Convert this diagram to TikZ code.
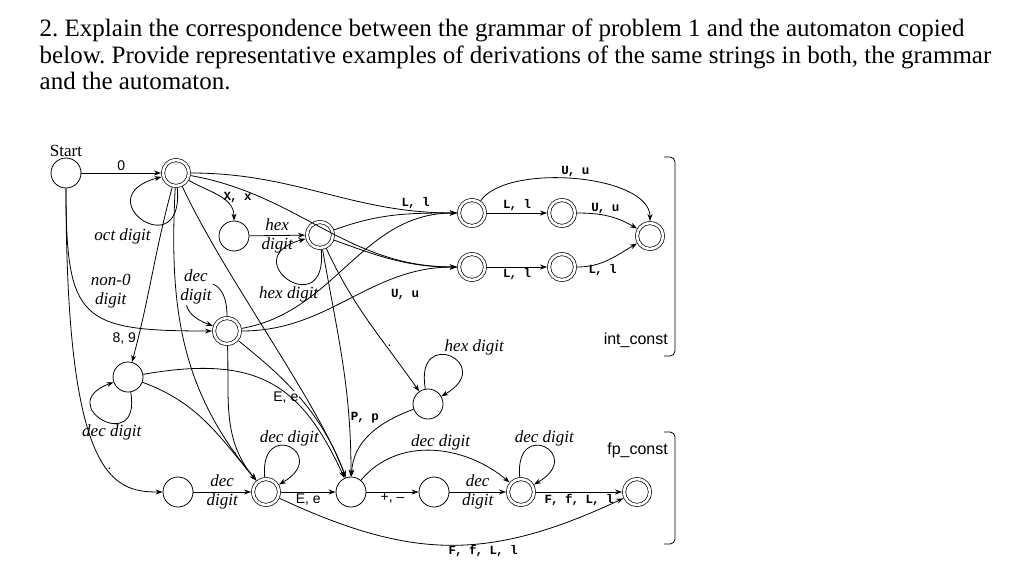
\documentclass[tikz,border=0pt]{standalone}
\usepackage{fontspec}
\setmainfont{Liberation Serif}
\newfontfamily\labsans{Liberation Sans}
\newfontfamily\labmono[LetterSpace=-8]{Liberation Mono}
\frenchspacing
\usetikzlibrary{arrows.meta,positioning}
\tikzset{
  state/.style={circle,draw,line width=0.8pt,minimum size=30pt,inner sep=0pt},
  accept/.style={circle,draw,line width=0.7pt,double,double distance=2.6pt,minimum size=26pt,inner sep=0pt,outer sep=2pt},
  arrow/.style={-{Stealth[length=7pt,width=5pt]},line width=0.8pt},
  diglab/.style={font=\fontsize{17}{19}\selectfont\itshape,align=center,inner sep=1pt},
  chrlab/.style={font=\labmono\bfseries\fontsize{12.5}{12.5}\selectfont,inner sep=1.5pt},
  sgnlab/.style={font=\labsans\fontsize{14}{14}\selectfont,inner sep=1.5pt},
  kindlab/.style={font=\labsans\fontsize{16}{16}\selectfont,inner sep=0pt},
  tasktext/.style={font=\fontsize{25}{27}\selectfont,anchor=base west,inner sep=0pt},
  bracket/.style={line width=0.8pt,rounded corners=5pt}
}

\begin{document}
\begin{tikzpicture}[x=1pt,y=1pt]
  \useasboundingbox (0,0) rectangle (1024,-567);
  % question
  \node[tasktext] (task1) at (39.5,-36.7) {2. Explain the correspondence between the grammar of problem 1 and the automaton copied};
  \node[tasktext] (task2) at (39.5,-63.3) {below. Provide representative examples of derivations of the same strings in both, the grammar};
  \node[tasktext] (task3) at (39.5,-90) {and the automaton.};

  % states
  \node[state] (start) at (66,-173) {};
  \node[above=0pt of start,font=\fontsize{17}{17}\selectfont,inner sep=1pt] (startlab) {Start};
  \node[accept] (zero) at (176,-173) {};
  \node[state] (hexx) at (234,-236) {};
  \node[accept] (hexnum) at (320,-235) {};
  \node[accept] (decnum) at (227,-331) {};
  \node[state] (octbad) at (128,-377) {};
  \node[state] (dot) at (178,-492) {};
  \node[accept] (frac) at (266,-492) {};
  \node[state] (expo) at (351,-492) {};
  \node[state] (expsign) at (434,-492) {};
  \node[accept] (expdig) at (521,-492) {};
  \node[accept] (fpsuf) at (637,-492) {};
  \node[state] (hexfrac) at (428,-404) {};
  \node[accept] (lsuf) at (472,-213) {};
  \node[accept] (llsuf) at (562,-213) {};
  \node[accept] (usuf) at (472,-267) {};
  \node[accept] (ulsuf) at (562,-267) {};
  \node[accept] (intend) at (650,-236) {};

  % integer part
  \draw[arrow] (start) -- node[above,sgnlab]{0} (zero);
  \draw[arrow] (zero) to[out=-85,in=-165,distance=80pt] node[below left,diglab,xshift=9pt,yshift=-7pt]{oct digit} (zero);
  \draw[arrow] (zero) to[out=-30,in=90] node[right,chrlab,pos=0.55]{X, x} (hexx);
  \draw[arrow] (hexx) -- node[diglab]{hex\\digit} (hexnum);
  \draw[arrow] (hexnum) to[out=-85,in=-165,distance=75pt] node[below,diglab,yshift=-6pt]{hex digit} (hexnum);
  \draw[arrow] (start) to[out=-90,in=180,out distance=132pt,in distance=132pt] node[above right,diglab,pos=0.5]{non-0\\digit} (decnum);
  \draw[arrow] (start) to[out=-90,in=180,out distance=290pt,in distance=50pt] node[above,sgnlab,pos=0.62]{.} (dot);
  \draw[arrow] (decnum) to[out=90,in=160,distance=68pt] node[diglab,fill=white,pos=0.5]{dec\\digit} (decnum);
  \draw[arrow] (zero) to[out=-105,in=75] node[left,sgnlab,pos=0.88]{8, 9} (octbad);
  \draw[arrow] (octbad) to[out=-80,in=-160,distance=66pt] node[below,diglab,pos=0.4]{dec digit} (octbad);

  % suffixes of int_const
  \draw[arrow] (zero) to[out=0,in=180] node[above,chrlab,pos=0.86]{L, l} (lsuf);
  \draw[arrow] (zero) to[out=-10,in=180] (usuf);
  \draw[arrow] (hexnum) to[out=20,in=180] (lsuf);
  \draw[arrow] (hexnum) to[out=-20,in=180] (usuf);
  \draw[arrow] (decnum) to[out=10,in=180] (lsuf);
  \draw[arrow] (decnum) to[out=0,in=180] node[below=12pt,chrlab,pos=0.78]{U, u} (usuf);
  \draw[arrow] (lsuf) -- node[above,chrlab]{L, l} (llsuf);
  \draw[arrow] (usuf) -- node[below,chrlab]{L, l} (ulsuf);
  \draw[arrow] (llsuf) to[out=0,in=150] node[above,chrlab,pos=0.45]{U, u} (intend);
  \draw[arrow] (ulsuf) to[out=0,in=-150] node[below,chrlab,pos=0.4]{L, l} (intend);
  \draw[arrow] (lsuf) to[out=55,in=90,looseness=0.7] node[above,chrlab]{U, u} (intend);

  % fraction and exponent
  \draw[arrow] (zero) to[out=-93,in=130] (frac);
  \draw[arrow] (decnum) to[out=-88,in=130] node[left,sgnlab,pos=0.78]{.} (frac);
  \draw[arrow] (octbad) to[out=-20,in=130] (frac);
  \draw[arrow] (zero) to[out=-65,in=110,out distance=100pt,in distance=80pt] (expo);
  \draw[arrow] (decnum) to[out=-40,in=110,out distance=40pt,in distance=80pt] node[left,sgnlab,pos=0.55,fill=white,inner sep=0.5pt]{E, e} (expo);
  \draw[arrow] (octbad) to[out=10,in=115,out distance=120pt,in distance=100pt] (expo);
  \draw[arrow] (dot) -- node[diglab]{dec\\digit} (frac);
  \draw[arrow] (frac) to[out=95,in=30,distance=60pt] node[above,diglab]{dec digit} (frac);
  \draw[arrow] (frac) -- node[below,sgnlab]{E, e} (expo);

  % hexadecimal fraction
  \draw[arrow] (hexnum) to[out=-65,in=125] node[right,sgnlab,pos=0.68]{.} (hexfrac);
  \draw[arrow] (hexfrac) to[out=100,in=30,distance=65pt] node[above,diglab,xshift=24pt]{hex digit} (hexfrac);
  \draw[arrow] (hexnum) to[out=-80,in=90] node[right,chrlab,pos=0.76]{P, p} (expo);
  \draw[arrow] (hexfrac) to[out=200,in=88] (expo);

  % exponent digits and fp suffix
  \draw[arrow] (expo) -- node[below,sgnlab]{+, –} (expsign);
  \draw[arrow] (expsign) -- node[diglab]{dec\\digit} (expdig);
  \draw[arrow] (expo) to[out=50,in=140] node[above,diglab,pos=0.55]{dec digit} (expdig);
  \draw[arrow] (expdig) to[out=95,in=30,distance=60pt] node[above,diglab]{dec digit} (expdig);
  \draw[arrow] (expdig) -- node[below,chrlab]{F, f, L, l} (fpsuf);
  \draw[arrow] (frac) to[out=-25,in=-155,looseness=1.1] node[below,chrlab,pos=0.6]{F, f, L, l} (fpsuf);

  % token kinds
  \draw[bracket] (664,-157) -- (675,-157) -- (675,-356) -- (664,-356);
  \node[kindlab,anchor=east] (intlab) at (668,-340) {int\_const};
  \draw[bracket] (664,-432) -- (675,-432) -- (675,-544) -- (664,-544);
  \node[kindlab,anchor=east] (fplab) at (668,-450) {fp\_const};
\end{tikzpicture}
\end{document}
